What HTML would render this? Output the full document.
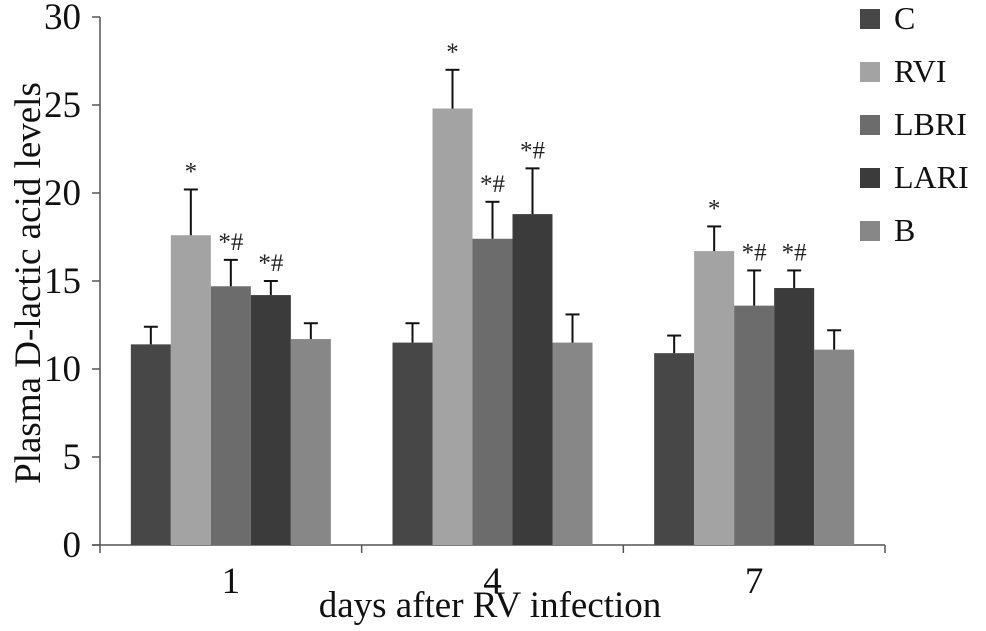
<!DOCTYPE html>
<html><head><meta charset="utf-8"><style>
body{margin:0;background:#fff}
svg{display:block;font-family:"Liberation Serif",serif}
</style></head><body>
<svg id="chart" width="986" height="631" viewBox="0 0 986 631" xmlns="http://www.w3.org/2000/svg">
<g id="axes"></g><g id="bars"></g><g id="legend"></g>
<text transform="translate(40,283) rotate(-90)" text-anchor="middle" font-size="37" fill="#111">Plasma D-lactic acid levels</text>
<text x="490" y="617" text-anchor="middle" font-size="37" fill="#111">days after RV infection</text>
</svg>
<script>
const categories = ["1","4","7"];
const seriesNames = ["C","RVI","LBRI","LARI","B"];
const seriesC = [11.4, 11.5, 10.9];
const seriesRVI = [17.6, 24.8, 16.7];
const seriesLBRI = [14.7, 17.4, 13.6];
const seriesLARI = [14.2, 18.8, 14.6];
const seriesB = [11.7, 11.5, 11.1];
const errC = [1.0, 1.1, 1.0];
const errRVI = [2.6, 2.2, 1.4];
const errLBRI = [1.5, 2.1, 2.0];
const errLARI = [0.8, 2.6, 1.0];
const errB = [0.9, 1.6, 1.1];
const marksRVI = ["*","*","*"];
const marksLBRI = ["*#","*#","*#"];
const marksLARI = ["*#","*#","*#"];
const yTicks = [0,5,10,15,20,25,30];

const colors = ["#474747","#a3a3a3","#6c6c6c","#3b3b3b","#878787"];
const values = [seriesC,seriesRVI,seriesLBRI,seriesLARI,seriesB];
const errs = [errC,errRVI,errLBRI,errLARI,errB];
const marks = [null,marksRVI,marksLBRI,marksLARI,null];
const NS="http://www.w3.org/2000/svg";
const x0=100,x1=885,y0=545,yTop=17,yMax=30;
const y=v=>y0-(v/yMax)*(y0-yTop);
const band=(x1-x0)/categories.length;
const bw=40;
function mk(tag,attrs,parent,text){const e=document.createElementNS(NS,tag);for(const k in attrs)e.setAttribute(k,attrs[k]);if(text!==undefined)e.textContent=text;parent.appendChild(e);return e;}
const axes=document.getElementById('axes'),bars=document.getElementById('bars'),legend=document.getElementById('legend');
let ax=mk('line',{x1:x0,y1:yTop,x2:x0,y2:y0,stroke:'#555','stroke-width':1.5},axes);


let xa=mk('line',{x1:x0-8,y1:y0,x2:x1,y2:y0,stroke:'#555','stroke-width':1.5},axes);


yTicks.forEach(t=>{
  mk('line',{x1:x0-8,y1:y(t),x2:x0,y2:y(t),stroke:'#555','stroke-width':1.5},axes);
  let l=mk('text',{x:x0-19,y:y(t)+12,'text-anchor':'end','font-size':37,fill:'#111'},axes,String(t));
  
  
});
for(let i=0;i<=categories.length;i++){mk('line',{x1:x0+i*band,y1:y0,x2:x0+i*band,y2:y0+8,stroke:'#555','stroke-width':1.5},axes);}
categories.forEach((c,i)=>{
  const cx=x0+band*(i+0.5);
  let l=mk('text',{x:cx,y:y0+48,'text-anchor':'middle','font-size':37,fill:'#111'},axes,c);
  
  
  values.forEach((s,j)=>{
    const bx=cx-bw*2.5+j*bw, v=s[i], e=errs[j][i];
    let r=mk('rect',{x:bx,y:y(v),width:bw,height:y0-y(v),fill:colors[j]},bars);
    
    
    const mx=bx+bw/2;
    mk('line',{x1:mx,y1:y(v),x2:mx,y2:y(v+e),stroke:'#111','stroke-width':2},bars);
    mk('line',{x1:mx-7,y1:y(v+e),x2:mx+7,y2:y(v+e),stroke:'#111','stroke-width':2},bars);
    if(marks[j]){
      let m=mk('text',{x:mx,y:y(v+e)-10,'text-anchor':'middle','font-size':25,fill:'#222'},bars,marks[j][i]);
      
      
    }
  });
});
seriesNames.forEach((n,j)=>{
  const ly=17+j*53;
  let g=mk('g',{},legend);
  
  
  mk('rect',{x:860,y:ly-8,width:20,height:20,fill:colors[j]},g);
  mk('text',{x:894,y:ly+12,'font-size':32,fill:'#111'},g,n);
});
</script>
</body></html>
